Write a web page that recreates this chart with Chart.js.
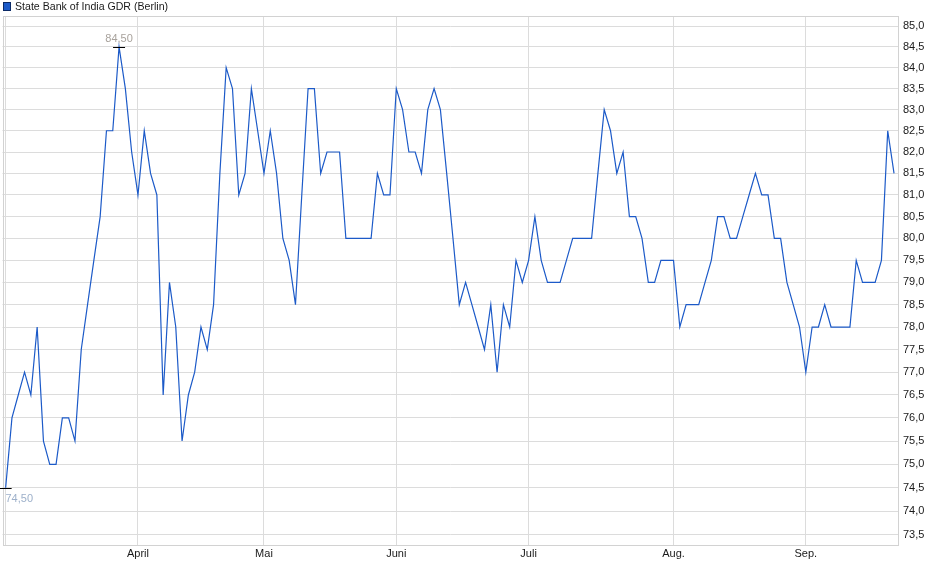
<!DOCTYPE html>
<html>
<head>
<meta charset="utf-8">
<script src="https://cdn.jsdelivr.net/npm/chart.js@4.4.1/dist/chart.umd.min.js"></script>
<style>
  html, body { margin: 0; padding: 0; background: #fff; }
  #wrap { position: relative; width: 940px; height: 579px; }
</style>
</head>
<body>
<div id="wrap"><canvas id="chart"></canvas></div>
<script>
const seriesName = 'State Bank of India GDR (Berlin)'

// one price per trading day, early March .. mid September
const prices = [
  74.5, 76.0, 76.5, 77.0, 76.5, 78.0, 75.5, 75.0, 75.0, 76.0,
  76.0, 75.5, 77.5, 78.5, 79.5, 80.5, 82.5, 82.5, 84.5, 83.5,
  82.0, 81.0, 82.5, 81.5, 81.0, 76.5, 79.0, 78.0, 75.5, 76.5,
  77.0, 78.0, 77.5, 78.5, 81.5, 84.0, 83.5, 81.0, 81.5, 83.5,
  82.5, 81.5, 82.5, 81.5, 80.0, 79.5, 78.5, 81.0, 83.5, 83.5,
  81.5, 82.0, 82.0, 82.0, 80.0, 80.0, 80.0, 80.0, 80.0, 81.5,
  81.0, 81.0, 83.5, 83.0, 82.0, 82.0, 81.5, 83.0, 83.5, 83.0,
  81.5, 80.0, 78.5, 79.0, 78.5, 78.0, 77.5, 78.5, 77.0, 78.5,
  78.0, 79.5, 79.0, 79.5, 80.5, 79.5, 79.0, 79.0, 79.0, 79.5,
  80.0, 80.0, 80.0, 80.0, 81.5, 83.0, 82.5, 81.5, 82.0, 80.5,
  80.5, 80.0, 79.0, 79.0, 79.5, 79.5, 79.5, 78.0, 78.5, 78.5,
  78.5, 79.0, 79.5, 80.5, 80.5, 80.0, 80.0, 80.5, 81.0, 81.5,
  81.0, 81.0, 80.0, 80.0, 79.0, 78.5, 78.0, 77.0, 78.0, 78.0,
  78.5, 78.0, 78.0, 78.0, 78.0, 79.5, 79.0, 79.0, 79.0, 79.5,
  82.5, 81.5
]

// first trading day of each month (index into prices)
const monthIndex = [ 0, 21, 41, 62, 83, 106, 127 ]
const monthLabels = [ '', 'April', 'Mai', 'Juni', 'Juli', 'Aug.', 'Sep.' ]

const yTicks = [ 73.5, 74.0, 74.5, 75.0, 75.5, 76.0, 76.5, 77.0, 77.5, 78.0, 78.5, 79.0,
  79.5, 80.0, 80.5, 81.0, 81.5, 82.0, 82.5, 83.0, 83.5, 84.0, 84.5, 85.0 ]

const FONT = 'Liberation Sans, Arial, sans-serif'
const GRID = '#dcdcdc'
const LINE = '#1c5ac8'

const fmt = ( v, d ) => v.toFixed( d ).replace( '.', ',' )

// frame, legend and high/low markers
const extras = {
  id: 'extras',
  beforeDatasetsDraw( chart ) {
    const { ctx, chartArea: a } = chart
    ctx.save()
    ctx.strokeStyle = '#d2d2d2'
    ctx.lineWidth = 1
    ctx.strokeRect( Math.round( a.left ) + 0.5, Math.round( a.top ) + 0.5,
      Math.round( a.right - a.left ) - 1, Math.round( a.bottom - a.top ) )
    ctx.restore()
  },
  afterDraw( chart ) {
    const { ctx, chartArea: a } = chart
    const xs = chart.scales.x, ys = chart.scales.y
    ctx.save()
    // legend
    ctx.fillStyle = LINE
    ctx.fillRect( 4, 3, 6, 7 )
    ctx.strokeStyle = '#0b2a66'
    ctx.lineWidth = 1
    ctx.strokeRect( 3.5, 2.5, 7, 8 )
    ctx.fillStyle = '#1a1a1a'
    ctx.font = '10.6px ' + FONT
    ctx.textBaseline = 'middle'
    ctx.textAlign = 'left'
    ctx.fillText( seriesName, 15, 7 )

    // high / low
    ctx.font = '11px ' + FONT
    const hi = prices.indexOf( Math.max( ...prices ) )
    const lo = prices.indexOf( Math.min( ...prices ) )
    const mark = ( i, above, color ) => {
      const x = xs.getPixelForValue( i ), y = Math.round( ys.getPixelForValue( prices[ i ] ) ) + 0.5
      ctx.strokeStyle = '#000'
      ctx.beginPath( )
      ctx.moveTo( x - 6, y )
      ctx.lineTo( x + 6, y )
      ctx.stroke( )
      const txt = fmt( prices[ i ], 2 )
      const w = ctx.measureText( txt ).width
      let tx = x - w / 2
      if ( tx < a.left + 3 ) tx = a.left + 3
      ctx.fillStyle = color
      ctx.textAlign = 'left'
      ctx.fillText( txt, tx, above ? y - 9 : y + 10 )
    }
    mark( hi, true, '#a8a29c' )
    mark( lo, false, '#9db0ca' )
    ctx.restore()
  }
}

new Chart( document.getElementById( 'chart' ), {
  type: 'line',
  data: {
    datasets: [ {
      label: seriesName,
      data: prices.map( ( p, i ) => ( { x: i, y: p } ) ),
      borderColor: LINE,
      borderWidth: 1.2,
      pointRadius: 0,
      tension: 0,
      fill: false
    } ]
  },
  options: {
    responsive: true,
    maintainAspectRatio: false,
    animation: false,
    events: [ ],
    layout: { padding: { left: 2.5, top: 16, right: 0, bottom: 0 } },
    plugins: { legend: { display: false }, tooltip: { enabled: false } },
    scales: {
      x: {
        type: 'linear',
        min: -0.5,
        max: 141.63,
        afterBuildTicks: ( s ) => { s.ticks = monthIndex.map( v => ( { value: v } ) ) },
        afterFit: ( s ) => { s.height = 34 },
        grid: { color: GRID, drawTicks: false },
        border: { display: false },
        ticks: {
          autoSkip: false,
          maxRotation: 0,
          padding: 2,
          color: '#1a1a1a',
          font: { family: FONT, size: 11 },
          callback: ( v, i ) => monthLabels[ i ]
        }
      },
      y: {
        type: 'logarithmic',
        position: 'right',
        min: 73.29,
        max: 85.25,
        afterBuildTicks: ( s ) => { s.ticks = yTicks.map( v => ( { value: v } ) ) },
        afterFit: ( s ) => { s.width = 42 },
        grid: { color: GRID, drawTicks: false },
        border: { display: false },
        ticks: {
          padding: 5,
          color: '#1a1a1a',
          font: { family: FONT, size: 11 },
          callback: ( v ) => fmt( v, 1 )
        }
      }
    }
  },
  plugins: [ extras ]
} )
</script>
</body>
</html>
